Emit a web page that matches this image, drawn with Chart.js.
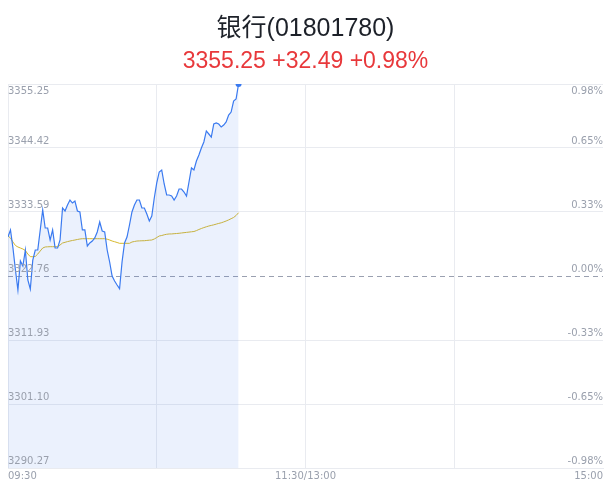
<!DOCTYPE html>
<html>
<head>
<meta charset="utf-8">
<script src="https://cdn.jsdelivr.net/npm/chart.js@4.4.1/dist/chart.umd.min.js"></script>
<style>
  html, body { margin: 0; padding: 0; background: #fff; }
  #wrap { width: 611px; height: 492px; }
</style>
</head>
<body>
<div id="wrap"><canvas id="chart" width="611" height="492"></canvas></div>
<script>
// ---------------- DATA ----------------
const TITLE = '银行(01801780)';
const SUBTITLE = '3355.25 +32.49 +0.98%';
const PRE_CLOSE = 3322.76;

// minute-by-minute prices since 09:30
const priceValues = [
  3329.41, 3330.55, 3327.50, 3323.78, 3320.39, 3325.30, 3324.45, 3327.16, 3322.08, 3320.56,
  3325.47, 3327.16, 3327.16, 3330.55, 3333.93, 3330.88, 3330.88, 3328.85, 3330.55, 3327.50,
  3327.50, 3328.85, 3334.27, 3333.76, 3334.77, 3335.62, 3335.11, 3335.45, 3333.76, 3333.59,
  3330.55, 3330.55, 3327.84, 3328.35, 3328.68, 3329.19, 3330.21, 3331.90, 3330.38, 3330.21,
  3327.16, 3325.13, 3322.76, 3321.91, 3321.24, 3320.61, 3325.13, 3328.35, 3329.36, 3331.39,
  3333.59, 3334.77, 3335.62, 3335.62, 3334.27, 3334.27, 3333.25, 3332.07, 3332.91, 3335.96,
  3338.50, 3340.36, 3340.70, 3338.33, 3336.47, 3336.47, 3336.30, 3335.62, 3336.30, 3337.48,
  3337.48, 3336.97, 3336.30, 3338.67, 3341.04, 3340.70, 3342.22, 3343.24, 3344.42, 3345.44,
  3347.30, 3346.79, 3346.28, 3348.48, 3348.65, 3348.48, 3347.97, 3348.31, 3348.82, 3350.00,
  3350.51, 3352.37, 3352.71, 3355.25
];

// average price line
const avgValues = [
  3329.53, 3329.19, 3328.51, 3327.92, 3327.67, 3327.50, 3327.33, 3327.07, 3326.48, 3326.03,
  3326.03, 3326.06, 3326.48, 3326.99, 3327.50, 3327.67, 3327.70, 3327.72, 3327.72, 3327.72,
  3327.72, 3328.01, 3328.34, 3328.46, 3328.58, 3328.68, 3328.77, 3328.85, 3328.94, 3329.02,
  3329.07, 3329.07, 3329.07, 3329.07, 3329.07, 3329.07, 3329.07, 3329.07, 3329.07, 3329.07,
  3328.99, 3328.85, 3328.68, 3328.56, 3328.43, 3328.29, 3328.29, 3328.29, 3328.29, 3328.29,
  3328.51, 3328.60, 3328.68, 3328.70, 3328.72, 3328.73, 3328.78, 3328.82, 3328.85, 3329.02,
  3329.27, 3329.53, 3329.61, 3329.73, 3329.82, 3329.87, 3329.88, 3329.92, 3329.95, 3329.99,
  3330.04, 3330.09, 3330.14, 3330.19, 3330.24, 3330.29, 3330.44, 3330.63, 3330.80, 3330.95,
  3331.09, 3331.22, 3331.32, 3331.42, 3331.54, 3331.66, 3331.76, 3331.91, 3332.07, 3332.25,
  3332.46, 3332.66, 3333.00, 3333.47
];

const yTickValues = [3355.25, 3344.42, 3333.59, 3322.76, 3311.93, 3301.10, 3290.27];
const yTickLabels = ['3355.25', '3344.42', '3333.59', '3322.76', '3311.93', '3301.10', '3290.27'];
const pctLabels = ['0.98%', '0.65%', '0.33%', '0.00%', '-0.33%', '-0.65%', '-0.98%'];

const TOTAL_MINUTES = 240;
const xTickMinutes = [0, 60, 120, 180, 240];
const xTickLabels = ['09:30', '11:30/13:00', '15:00'];
const xLabelMinutes = [0, 120, 240];

const minuteIndex = priceValues.map((_, i) => i);

// ---------------- STYLE ----------------
const BLUE = 'rgb(58,122,240)';
const GOLD = 'rgb(214,184,44)';
const GRID = '#e9ebf0';
const TICK_TEXT = '#9aa0ad';
const TICK_FONT = '10px "DejaVu Sans", sans-serif';

// labels drawn inside the plot, plus the dashed pre-close line
const axisLabels = {
  id: 'axisLabels',
  beforeDatasetsDraw(chart) {
    const { ctx, chartArea, scales } = chart;
    const y = Math.round(scales.y.getPixelForValue(PRE_CLOSE)) + 0.5;
    ctx.save();
    ctx.strokeStyle = '#9aa0b0';
    ctx.lineWidth = 1;
    ctx.setLineDash([5, 4]);
    ctx.beginPath();
    ctx.moveTo(chartArea.left, y);
    ctx.lineTo(chartArea.right, y);
    ctx.stroke();
    ctx.restore();
  },
  afterDraw(chart) {
    const { ctx, chartArea, scales } = chart;
    ctx.save();
    ctx.font = TICK_FONT;
    ctx.fillStyle = TICK_TEXT;
    yTickValues.forEach((v, i) => {
      const py = scales.y.getPixelForValue(v);
      const top = i === 0;
      ctx.textBaseline = top ? 'top' : 'bottom';
      const ty = top ? py + 2 : py - 2;
      ctx.textAlign = 'left';
      ctx.fillText(yTickLabels[i], chartArea.left, ty);
      ctx.textAlign = 'right';
      ctx.fillText(pctLabels[i], chartArea.right, ty);
    });
    ctx.textBaseline = 'top';
    xLabelMinutes.forEach((m, i) => {
      const px = scales.x.getPixelForValue(m);
      ctx.textAlign = i === 0 ? 'left' : (i === xLabelMinutes.length - 1 ? 'right' : 'center');
      ctx.fillText(xTickLabels[i], px, chartArea.bottom + 3);
    });
    ctx.restore();
  }
};

const ctx = document.getElementById('chart').getContext('2d');

new Chart(ctx, {
  type: 'line',
  data: {
    labels: minuteIndex,
    datasets: [
      {
        label: '价格',
        data: priceValues,
        borderColor: BLUE,
        backgroundColor: 'rgba(58,122,240,0.1)',
        borderWidth: 1.2,
        fill: 'start',
        tension: 0,
        pointRadius: c => (c.dataIndex === priceValues.length - 1 ? 3 : 0),
        pointBackgroundColor: BLUE,
        pointBorderWidth: 0,
        order: 1
      },
      {
        label: '均价',
        data: avgValues,
        borderColor: GOLD,
        borderWidth: 1,
        fill: false,
        tension: 0,
        pointRadius: 0,
        order: 2
      }
    ]
  },
  options: {
    responsive: false,
    animation: false,
    layout: { padding: { left: 8, right: 8, top: 0, bottom: 24 } },
    plugins: {
      legend: { display: false },
      tooltip: { enabled: false },
      title: {
        display: true,
        text: TITLE,
        color: '#1d2129',
        font: { family: '"Liberation Sans", "Noto Sans CJK SC", sans-serif', size: 25, weight: 'normal' },
        padding: { top: 14, bottom: 4 }
      },
      subtitle: {
        display: true,
        text: SUBTITLE,
        color: '#e8383b',
        font: { family: '"Liberation Sans", sans-serif', size: 23, weight: 'normal' },
        padding: { top: 0, bottom: 8.4 }
      }
    },
    scales: {
      x: {
        type: 'linear',
        min: 0,
        max: TOTAL_MINUTES,
        afterBuildTicks: s => { s.ticks = xTickMinutes.map(v => ({ value: v })); },
        ticks: { display: false },
        grid: {
          drawTicks: false,
          color: c => (c.tick && c.tick.value === TOTAL_MINUTES ? 'rgba(0,0,0,0)' : GRID)
        },
        border: { color: GRID }
      },
      y: {
        min: yTickValues[yTickValues.length - 1],
        max: yTickValues[0],
        afterBuildTicks: s => { s.ticks = yTickValues.map(v => ({ value: v })); },
        ticks: { display: false },
        grid: {
          drawTicks: false,
          color: c => (c.tick && c.tick.value === PRE_CLOSE ? 'rgba(0,0,0,0)' : GRID)
        },
        border: { color: GRID }
      }
    }
  },
  plugins: [axisLabels]
});
</script>
</body>
</html>
